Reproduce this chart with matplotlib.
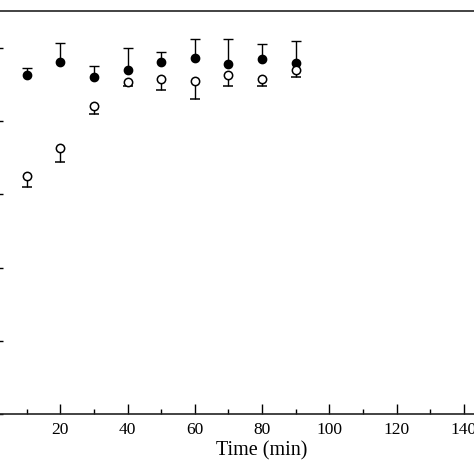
import matplotlib.pyplot as plt

plt.rcParams['font.family'] = ['Liberation Serif', 'DejaVu Serif']

# time points (min)
time = [10, 20, 30, 40, 50, 60, 70, 80, 90]

# filled circles, error shown upward
filled = [92.6, 96.3, 92.2, 94.0, 96.1, 97.4, 95.5, 97.1, 96.0]
filled_err = [1.9, 5.0, 3.0, 6.1, 2.9, 5.1, 7.0, 4.0, 6.0]

# open circles, error shown downward
opened = [65.1, 72.8, 84.2, 90.8, 91.5, 91.1, 92.7, 91.6, 94.1]
opened_err = [3.0, 4.0, 2.2, 1.3, 2.9, 5.0, 3.0, 2.1, 2.0]

xticks = [20, 40, 60, 80, 100, 120, 140]
yticks = [0, 20, 40, 60, 80, 100]

fig = plt.figure(figsize=(4.74, 4.74), dpi=100)
ax = fig.add_axes([-7 / 474, 60 / 474, 538 / 474, 402.6 / 474])

zeros = [0] * len(time)

eb = ax.errorbar(time, filled, yerr=[zeros, filled_err], fmt='o', color='black',
                 markersize=6, ecolor='black', elinewidth=1.0, capsize=3.5,
                 capthick=1.0, zorder=3)
eb[1][0].set_visible(False)

eb = ax.errorbar(time, opened, yerr=[opened_err, zeros], fmt='o', color='black',
                 markerfacecolor='white', markeredgecolor='black', markeredgewidth=1.1,
                 markersize=6, ecolor='black', elinewidth=1.0, capsize=3.5,
                 capthick=1.0, zorder=3)
eb[1][1].set_visible(False)

ax.set_xlim(0, 160)
ax.set_ylim(0, 110)
ax.set_xticks(xticks)
ax.set_xticks(range(10, 160, 20), minor=True)
ax.set_yticks(yticks)

ax.tick_params(direction='in', length=7, width=1.0, labelsize=12.5, pad=6)
ax.tick_params(axis='y', labelleft=False)
ax.tick_params(which='minor', direction='in', length=3.5, width=1.0)
for s in ax.spines.values():
    s.set_linewidth(1.2)
    s.set_color('#222222')

ax.set_xlabel('Time (min)', fontsize=14.5, labelpad=2)

fig.savefig('out.png', dpi=100)
